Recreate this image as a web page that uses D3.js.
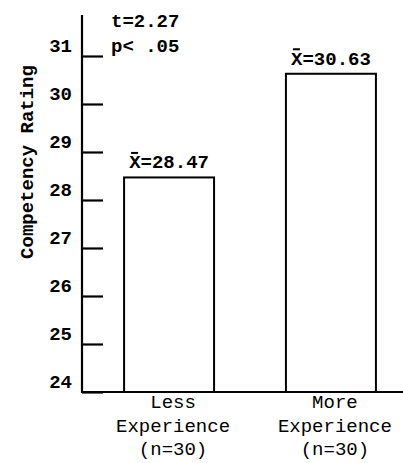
<!DOCTYPE html>
<html><head><meta charset="utf-8">
<script src="https://cdn.jsdelivr.net/npm/d3@7"></script>
<style>body{margin:0;background:#fff}</style>
</head><body>
<script>
const categories = [["Less", "Experience", "(n=30)"], ["More", "Experience", "(n=30)"]];
const means = [28.47, 30.63];
const meanLabels = ["28.47", "30.63"];
const yTicks = [24, 25, 26, 27, 28, 29, 30, 31];
const yTitle = "Competency Rating";
const statLines = ["t=2.27", "p< .05"];

const W = 403, H = 463;
const font = "'Liberation Mono', 'DejaVu Sans Mono', monospace";
const svg = d3.select("body").append("svg").attr("width", W).attr("height", H);

const axisX = 82, baseY = 392;
const y = d3.scaleLinear().domain([24, 31]).range([baseY, 56]);
const x = d3.scaleBand().domain(d3.range(categories.length)).range([axisX, 418])
  .paddingInner(0.444).paddingOuter(0.26);

// bars
svg.selectAll("rect.bar").data(means).join("rect")
  .attr("x", (d, i) => x(i)).attr("width", x.bandwidth())
  .attr("y", d => y(d)).attr("height", d => baseY - y(d))
  .attr("fill", "#fff").attr("stroke", "#000").attr("stroke-width", 2);

// y axis
const yAxis = d3.axisRight(y).tickValues(yTicks).tickSize(21).tickFormat("");
const gy = svg.append("g").attr("transform", `translate(${axisX},0)`).call(yAxis);
gy.select(".domain").remove();
gy.selectAll(".tick line").attr("stroke", "#000").attr("stroke-width", 2.2);
svg.append("line").attr("x1", axisX).attr("x2", axisX).attr("y1", 15).attr("y2", baseY + 1)
  .attr("stroke", "#000").attr("stroke-width", 2.2);
// tick labels (above ticks, left of axis)
svg.selectAll("text.tl").data(yTicks).join("text")
  .attr("x", 72).attr("y", d => y(d) - 4).attr("text-anchor", "end")
  .attr("font-family", font).attr("font-size", 19).attr("font-weight", "bold")
  .text(d => d);

// baseline
svg.append("line").attr("x1", axisX).attr("x2", W).attr("y1", baseY).attr("y2", baseY)
  .attr("stroke", "#000").attr("stroke-width", 2.2);

// y title
svg.append("text").attr("transform", `translate(33,162) rotate(-90)`)
  .attr("text-anchor", "middle").attr("font-family", font).attr("font-size", 19)
  .attr("font-weight", "bold").text(yTitle);

// mean labels
const ml = svg.selectAll("g.ml").data(means).join("g")
  .attr("transform", (d, i) => `translate(${x(i) + x.bandwidth() / 2},${y(d) - 9})`);
ml.append("text").attr("text-anchor", "middle").attr("font-family", font)
  .attr("font-size", 19).attr("font-weight", "bold")
  .text((d, i) => "X=" + meanLabels[i]);
ml.append("line").attr("x1", -38).attr("x2", -31).attr("y1", -15.5).attr("y2", -15.5)
  .attr("stroke", "#000").attr("stroke-width", 2);

// category labels
categories.forEach((lines, i) => {
  const cx = x(i) + x.bandwidth() / 2 + 4;
  lines.forEach((t, j) => {
    svg.append("text").attr("x", cx).attr("y", 408 + j * 23.5)
      .attr("text-anchor", "middle").attr("font-family", font).attr("font-size", 19)
      .text(t);
  });
});

// stats
statLines.forEach((t, j) => {
  svg.append("text").attr("x", 111).attr("y", 27 + j * 25)
    .attr("font-family", font).attr("font-size", 19).attr("font-weight", "bold").text(t);
});
</script>
</body></html>
